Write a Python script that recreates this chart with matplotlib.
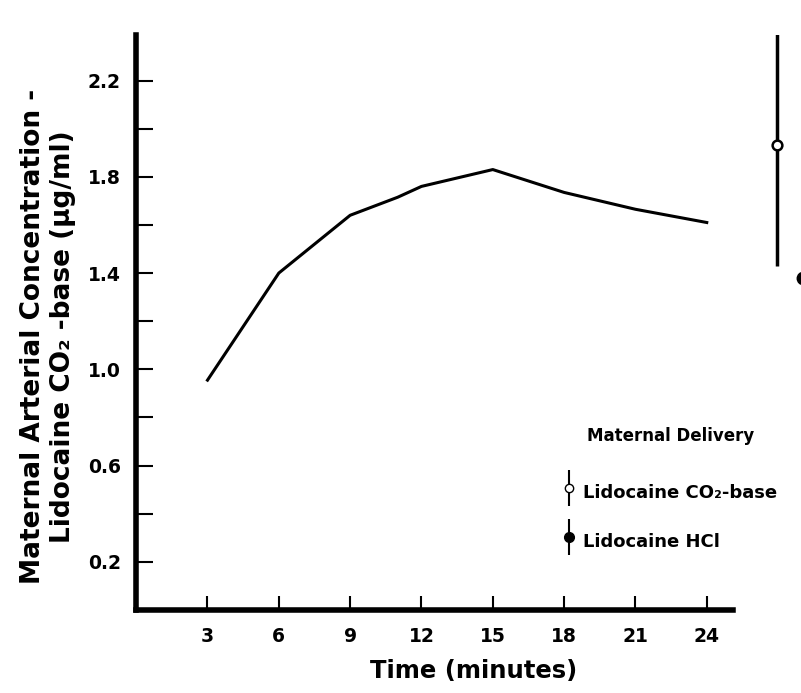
import numpy as np
import matplotlib
matplotlib.use('Agg')
from matplotlib import pyplot as plt
from matplotlib.legend_handler import HandlerErrorbar
from matplotlib.container import ErrorbarContainer

plt.rcParams['font.family'] = ['DejaVu Sans']
plt.rcParams['font.weight'] = 'bold'

# main curve: maternal arterial concentration vs time
time_min = [3, 6, 9, 11, 12, 15, 18, 21, 24]
conc = [0.955, 1.40, 1.64, 1.715, 1.76, 1.83, 1.735, 1.665, 1.61]

x_ticks = [3, 6, 9, 12, 15, 18, 21, 24]
y_major = [0.2, 0.6, 1.0, 1.4, 1.8, 2.2]
y_minor = [0.4, 0.8, 1.2, 1.6, 2.0]

# neighbouring panel (cut off at the right edge)
side_pos = [1, 2]
side_mean = [1.93, 1.38]
side_err = [0.5, 0.5]

fig = plt.figure(figsize=(8.01, 6.93), dpi=100)
ax = fig.add_axes([0.170, 0.1198, 0.745, 0.83])

ax.plot(time_min, conc, color='black', lw=2.2)

ax.set_xlim(0, 25.1)
ax.set_ylim(0, 2.39)
ax.set_xticks(x_ticks)
ax.set_xticklabels([str(t) for t in x_ticks])
ax.set_yticks(y_major)
ax.set_yticklabels(['%.1f' % v for v in y_major])
ax.set_yticks(y_minor, minor=True)

for s in ['top', 'right']:
    ax.spines[s].set_visible(False)
for s in ['left', 'bottom']:
    ax.spines[s].set_linewidth(4)
    ax.spines[s].set_capstyle('projecting')

ax.tick_params(axis='both', which='both', direction='in', width=1.5, color='black')
ax.tick_params(axis='y', which='both', length=12, pad=11, labelsize=13.5)
ax.tick_params(axis='x', which='major', length=10, pad=12, labelsize=13.5)

ax.set_xlabel('Time (minutes)', fontsize=17.5, fontweight='bold')
ax.xaxis.set_label_coords(0.565, -0.085)
ax.set_ylabel('Maternal Arterial Concentration -\nLidocaine CO\u2082 -base (\u00b5g/ml)',
              fontsize=19, fontweight='bold', linespacing=1.2)
ax.yaxis.set_label_coords(-0.10, 0.475)

# legend
eb1 = ax.errorbar([], [], yerr=[], fmt='o', mfc='white', mec='black', color='black',
                  ms=6, elinewidth=1.5)
eb2 = ax.errorbar([], [], yerr=[], fmt='o', mfc='black', mec='black', color='black',
                  ms=7, elinewidth=1.5)
leg = ax.legend([eb1, eb2], ['Lidocaine CO\u2082-base', 'Lidocaine HCl'],
                title='Maternal Delivery', frameon=False, fontsize=13,
                title_fontproperties={'weight': 'bold', 'size': 12},
                loc='upper left', bbox_to_anchor=(0.685, 0.408),
                bbox_transform=fig.transFigure, handlelength=0.5,
                handleheight=2.0, handletextpad=0.5, labelspacing=1.17,
                handler_map={ErrorbarContainer: HandlerErrorbar(xerr_size=0.3, yerr_size=1.0)})
leg._legend_box.sep = 24

# neighbouring panel, only the edge is visible
ax2 = fig.add_axes([760 / 801, 0.1198, 80 / 801, 0.83])
ax2.set_xlim(0.346, 3.42)
ax2.set_ylim(0, 2.39)
ax2.axis('off')
ax2.errorbar(side_pos[0], side_mean[0], yerr=side_err[0], fmt='o', mfc='white',
             mec='black', color='black', ms=7, elinewidth=2.5, mew=1.8)
ax2.errorbar(side_pos[1], side_mean[1], yerr=side_err[1], fmt='o', mfc='black',
             mec='black', color='#999999', ms=9, elinewidth=1)

fig.savefig('out.png', dpi=100)
